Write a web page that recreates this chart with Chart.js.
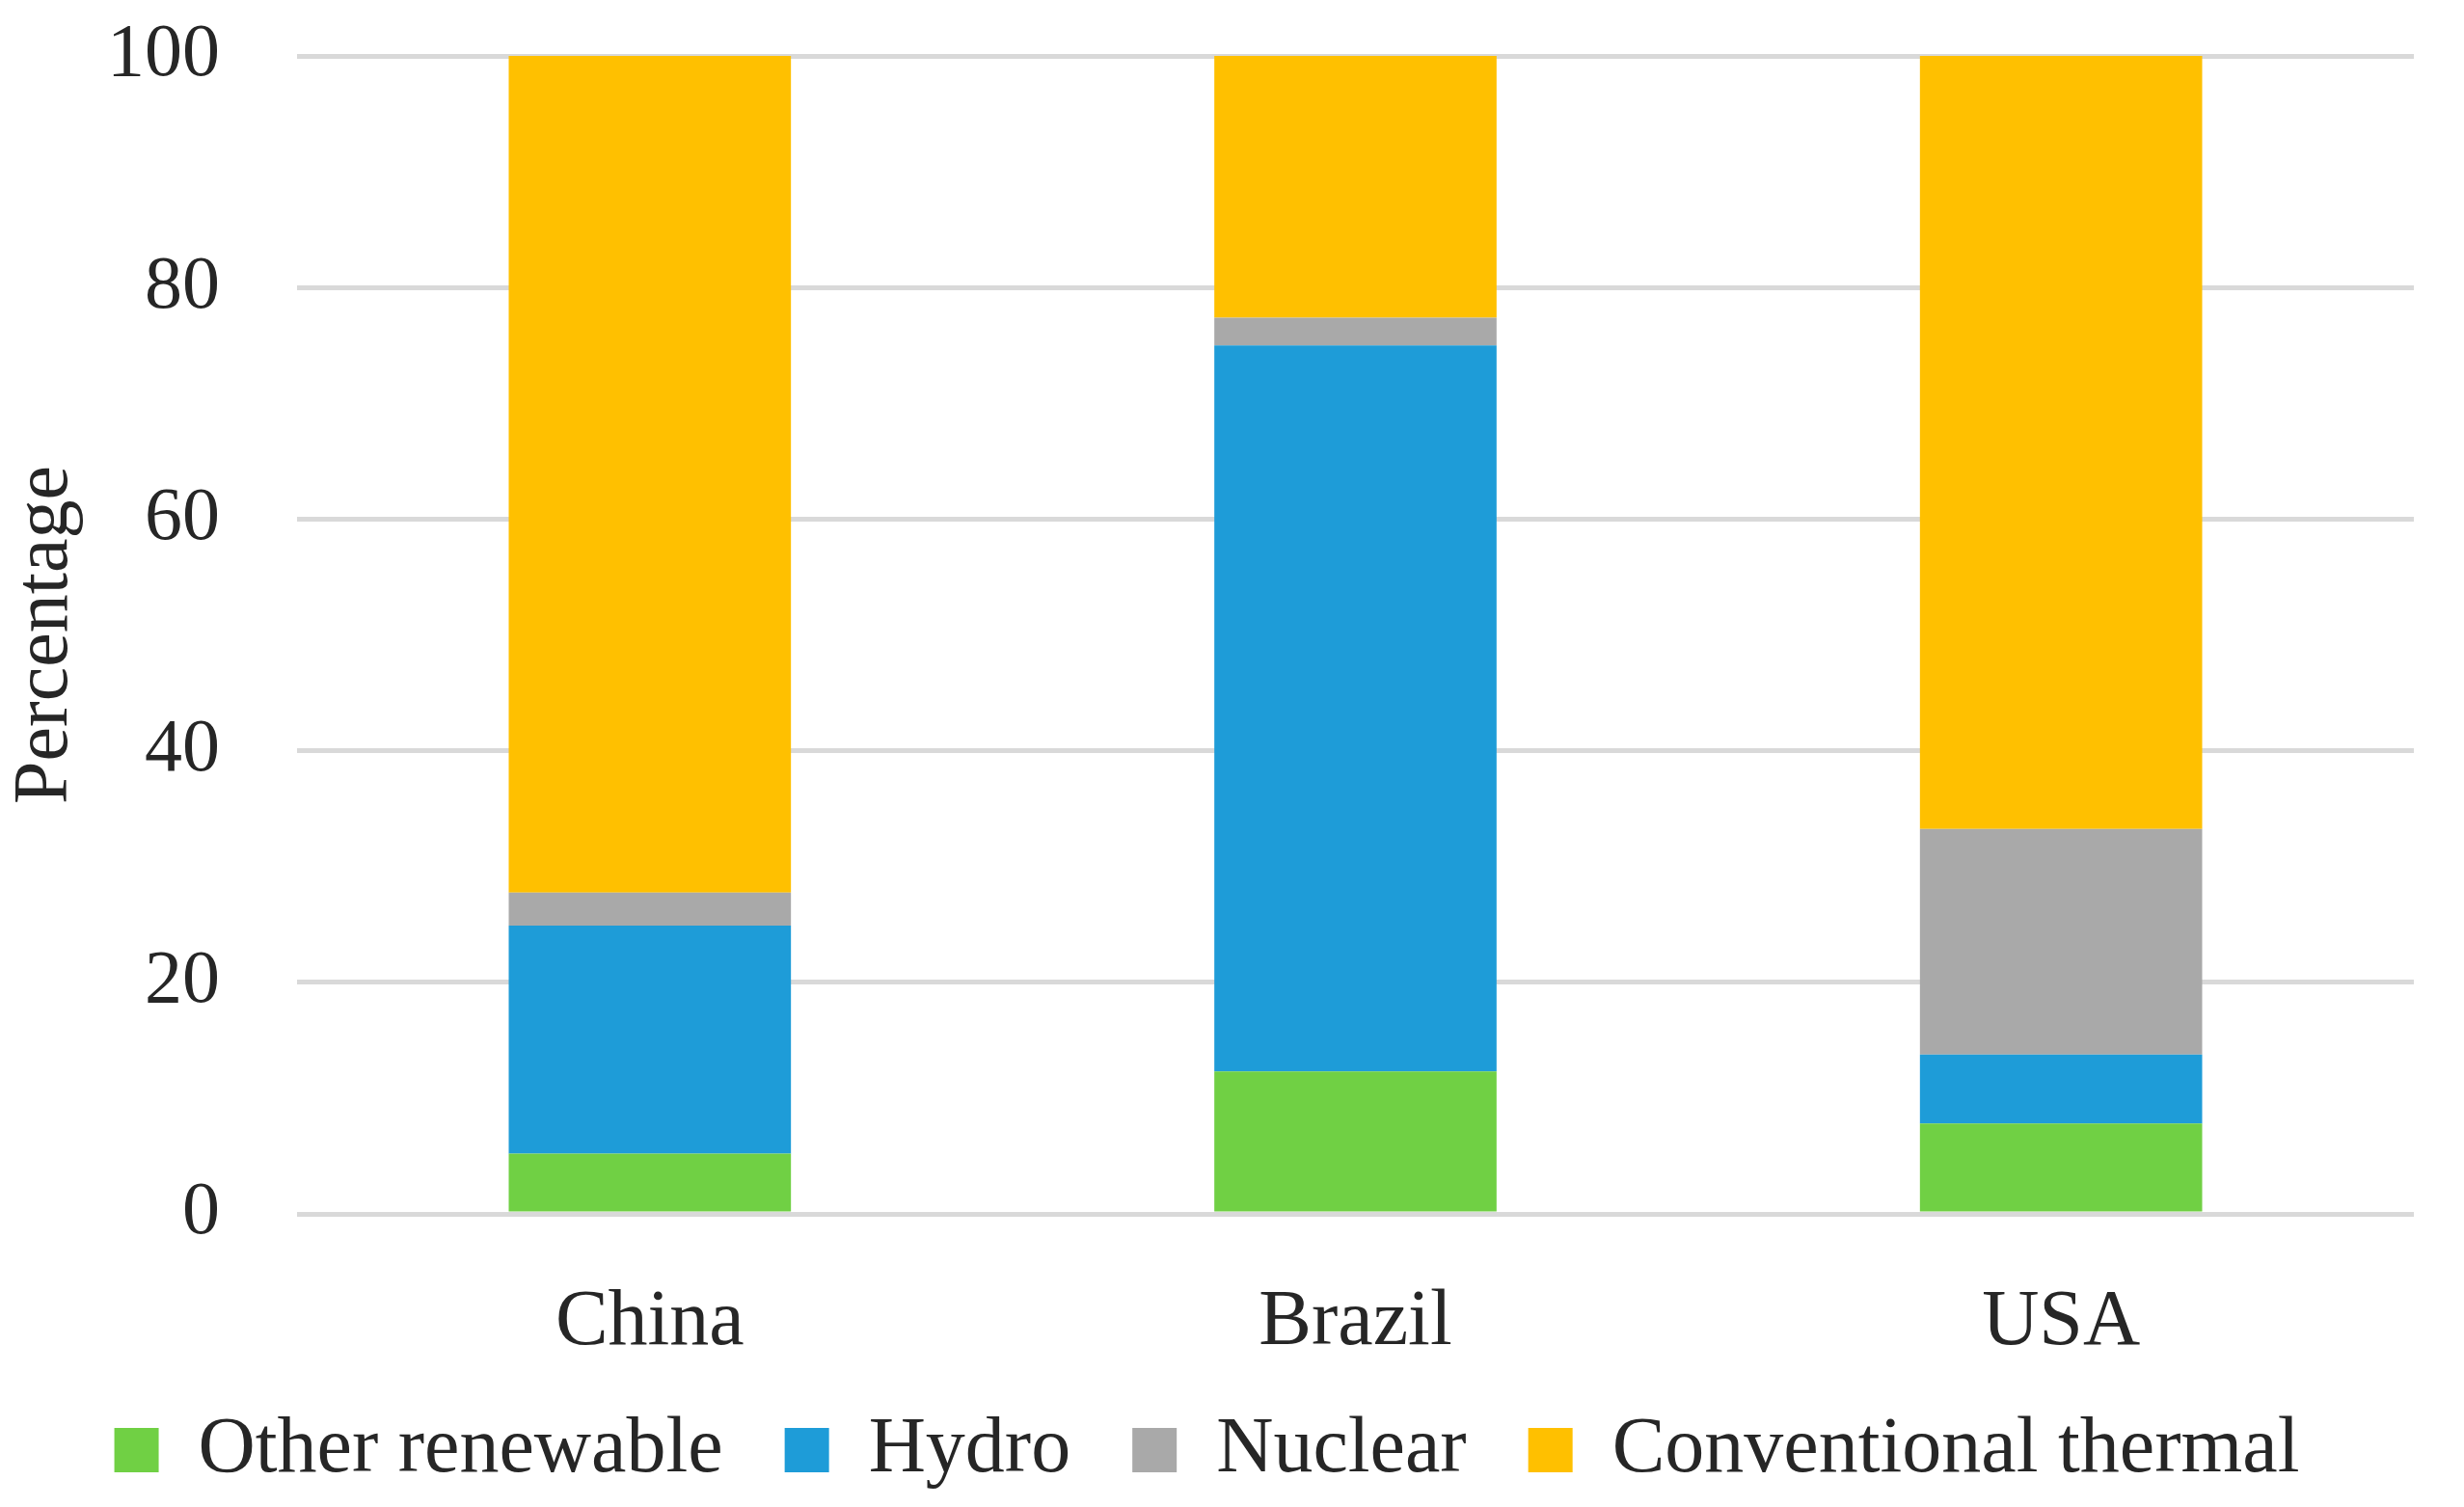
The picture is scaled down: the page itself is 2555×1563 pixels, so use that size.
<!DOCTYPE html>
<html>
<head>
<meta charset="utf-8">
<script src="https://cdn.jsdelivr.net/npm/chart.js@4.4.1/dist/chart.umd.min.js"></script>
<style>
  html, body { margin: 0; padding: 0; background: #fff; }
  #wrap { width: 2555px; height: 1563px; }
</style>
</head>
<body>
<div id="wrap"><canvas id="myChart" width="2555" height="1563"></canvas></div>
<script>
const countries = ['China', 'Brazil', 'USA'];
const otherRenewable = [5.2, 12.3, 7.8];
const hydro = [19.7, 62.7, 5.95];
const nuclear = [2.85, 2.4, 19.5];
const conventionalThermal = [72.25, 22.6, 66.75];
const yTicks = [0, 20, 40, 60, 80, 100];

const fontFamily = '"Liberation Serif", "DejaVu Serif", serif';
const textColor = '#262626';

new Chart(document.getElementById('myChart'), {
    type: 'bar',
    data: {
        labels: countries,
        datasets: [
            { label: 'Other renewable', data: otherRenewable, backgroundColor: '#70d044' },
            { label: 'Hydro', data: hydro, backgroundColor: '#1e9cd8' },
            { label: 'Nuclear', data: nuclear, backgroundColor: '#a9a9a9' },
            { label: 'Conventional thermal', data: conventionalThermal, backgroundColor: '#ffc000' },
        ],
    },
    options: {
        responsive: false,
        animation: false,
        devicePixelRatio: 1,
        layout: { padding: { top: 58, right: 52, left: 0, bottom: 8 } },
        datasets: {
            bar: { barPercentage: 0.4, categoryPercentage: 1.0, borderWidth: 0 },
        },
        plugins: {
            tooltip: { enabled: false },
            legend: {
                position: 'bottom',
                labels: {
                    color: textColor,
                    font: { family: fontFamily, size: 82 },
                    boxWidth: 46,
                    boxHeight: 46,
                    padding: 64,
                },
            },
        },
        scales: {
            x: {
                stacked: true,
                grid: { display: false },
                border: { display: false },
                afterFit: scale => { scale.height = 140; },
                ticks: {
                    color: textColor,
                    font: { family: fontFamily, size: 82 },
                    padding: 56,
                },
            },
            y: {
                stacked: true,
                min: 0,
                max: 100,
                afterBuildTicks: axis => {
                    axis.ticks = yTicks.map(v => ({ value: v }));
                },
                afterFit: scale => {
                    // tick padding is for the gap to the plot only
                    scale.width = 308;
                    scale.paddingTop = 0;
                    scale.paddingBottom = 0;
                },
                grid: { color: '#d9d9d9', lineWidth: 5, drawTicks: false },
                border: { display: false },
                ticks: {
                    color: textColor,
                    font: { family: fontFamily, size: 78 },
                    padding: 80,
                },
                title: {
                    display: true,
                    text: 'Percentage',
                    color: textColor,
                    font: { family: fontFamily, size: 80 },
                    padding: { top: 0, bottom: 0 },
                },
            },
        },
    },
});
</script>
</body>
</html>
